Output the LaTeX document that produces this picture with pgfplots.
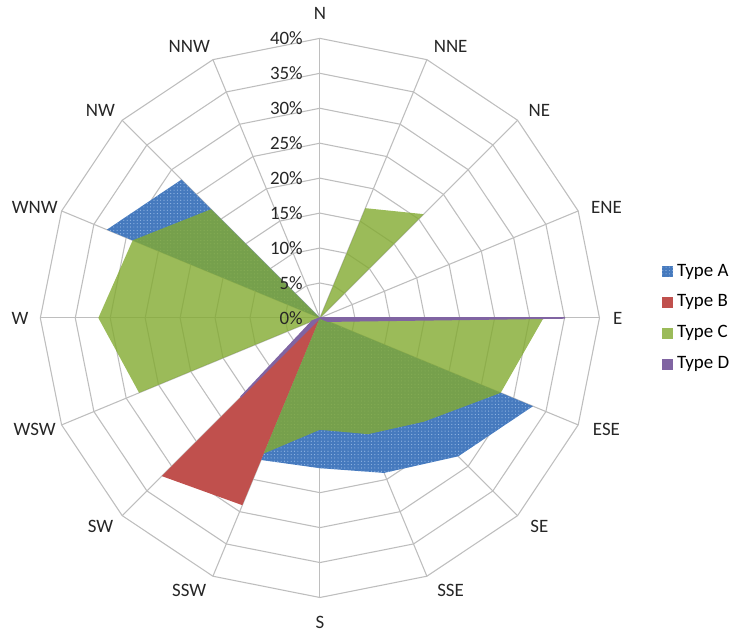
\documentclass[border=0pt]{standalone}
\usepackage{pgfplots}
\pgfplotsset{compat=1.18}
\usepackage{pgfplotstable}
\usepackage{fontspec}
\setmainfont{Carlito}
\usetikzlibrary{patterns.meta}

\definecolor{typeA}{RGB}{70,122,190}
\definecolor{typeB}{RGB}{192,80,77}
\definecolor{typeC}{RGB}{130,170,48}
\definecolor{typeD}{RGB}{128,100,162}
\definecolor{gridc}{RGB}{190,190,190}
\definecolor{dotc}{RGB}{150,185,230}

% direction index (N=0, clockwise, 22.5 deg steps), values in %
\pgfplotstableread{
i  A    B   C    D
0  0    0   0    0
1  0    0   17   0
2  0    0   21   0
3  0    0   0    0
4  0    0   32   35
5  33   0   28   1.2
6  28   0   21   0
7  24   0   18   0
8  21.5 0   16   0
9  22   29  21   0
10 0    32  0    16
11 0    0   28   1.2
12 0    0   31.7 0
13 33   0   29   0
14 28   0   22   0
15 0    0   0    0
}\winddata

\begin{document}
\begin{tikzpicture}
\begin{axis}[
  scale only axis, width=369.5pt, height=321pt,
  xmin=-45.77, xmax=58.31, ymin=-44.93, ymax=45.49,
  hide axis, clip=false,
  font=\fontsize{9.6}{11}\selectfont,
  legend style={draw=none, fill=none, at={(rel axis cs:0.902,0.497)}, anchor=west,
    row sep=4pt, font=\fontsize{9.6}{11}\selectfont},
  legend cell align=left,
  legend image code/.code={\path[#1, draw=none] (0pt,-2.7pt) rectangle (5.4pt,2.7pt);},
]
% polygon grid
\pgfplotsinvokeforeach{5,10,...,40}{
  \addplot[gridc, line width=0.55pt, forget plot]
    table[x expr={#1*sin(22.5*\thisrow{i})}, y expr={#1*cos(22.5*\thisrow{i})}] {\winddata} -- cycle;
}
\pgfplotsinvokeforeach{0,...,15}{
  \draw[gridc, line width=0.55pt] (axis cs:0,0) -- (axis cs:{40*sin(22.5*#1)},{40*cos(22.5*#1)});
}

\addplot[fill=typeA, draw=none,
  postaction={pattern={Dots[distance=1.7pt,radius=0.3pt]}, pattern color=dotc}]
  table[x expr={\thisrow{A}*sin(22.5*\thisrow{i})}, y expr={\thisrow{A}*cos(22.5*\thisrow{i})}] {\winddata} -- cycle;
\addplot[fill=typeB, draw=none]
  table[x expr={\thisrow{B}*sin(22.5*\thisrow{i})}, y expr={\thisrow{B}*cos(22.5*\thisrow{i})}] {\winddata} -- cycle;
\addplot[fill=typeC, fill opacity=0.8, draw=none]
  table[x expr={\thisrow{C}*sin(22.5*\thisrow{i})}, y expr={\thisrow{C}*cos(22.5*\thisrow{i})}] {\winddata} -- cycle;
\addplot[fill=typeD, draw=typeD, line width=0.8pt, line join=round]
  table[x expr={\thisrow{D}*sin(22.5*\thisrow{i})}, y expr={\thisrow{D}*cos(22.5*\thisrow{i})}] {\winddata} -- cycle;
\legend{Type A, Type B, Type C, Type D}

% radial tick labels
\pgfplotsinvokeforeach{0,5,...,40}{
  \node[anchor=east, inner sep=0pt, text=black!85] at (axis cs:-2.4,#1) {#1\%};
}
% direction labels (centres as placed in the original)
\begin{scope}[every node/.style={inner sep=0pt, anchor=center, text=black!85}]
\node at (axis cs:0,43.6) {N};
\node at (axis cs:18.7,38.8) {NNE};
\node at (axis cs:31.4,29.7) {NE};
\node at (axis cs:41.0,15.8) {ENE};
\node at (axis cs:42.6,0) {E};
\node at (axis cs:41.0,-16.0) {ESE};
\node at (axis cs:31.4,-29.8) {SE};
\node at (axis cs:18.7,-39.0) {SSE};
\node at (axis cs:0,-43.6) {S};
\node at (axis cs:-18.7,-39.0) {SSW};
\node at (axis cs:-31.4,-29.8) {SW};
\node at (axis cs:-40.8,-16.0) {WSW};
\node at (axis cs:-42.9,0) {W};
\node at (axis cs:-40.8,15.8) {WNW};
\node at (axis cs:-31.4,29.7) {NW};
\node at (axis cs:-18.7,38.8) {NNW};
\end{scope}
\path (rel axis cs:0,0) rectangle (rel axis cs:1,1);
\end{axis}
\end{tikzpicture}
\end{document}
